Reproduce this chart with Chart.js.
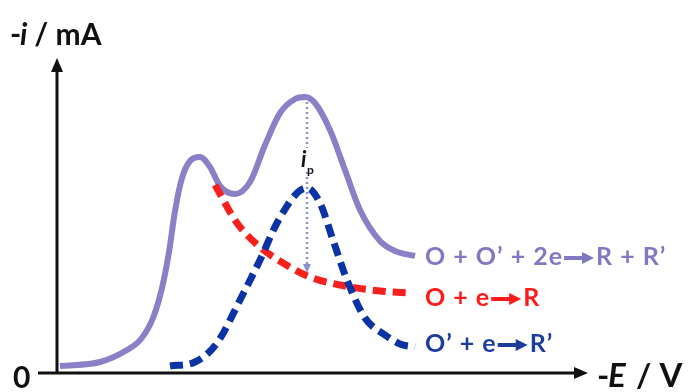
<!DOCTYPE html>
<html>
<head>
<meta charset="utf-8">
<script src="https://cdn.jsdelivr.net/npm/chart.js@4"></script>
<style>
  html, body { margin: 0; padding: 0; background: #fff; }
  #wrap { width: 696px; height: 392px; }
</style>
</head>
<body>
<div id="wrap"><canvas id="cv"></canvas></div>
<script>
// curve values (E and -i in arbitrary units)
const totalE = [3, 43, 70, 84, 96, 105, 112, 118, 125, 133, 143, 153, 163, 178, 193, 208, 223, 238, 248, 258, 273, 288, 303, 323, 338, 358];
const totalI = [7, 11, 23, 34, 55, 85, 121, 162, 195, 212, 216, 206, 187, 179, 191, 228, 260, 274, 276, 270, 243, 203, 163, 132, 122, 117];

const redoxE = [158, 180, 203, 226, 253, 283, 323, 355];
const redoxI = [188, 150, 126, 110, 96, 88, 82, 80];

const primeE = [113, 138, 160, 183, 203, 220, 240, 250, 263, 276, 290, 308, 328, 343, 358];
const primeI = [7, 11, 30, 73, 113, 150, 180, 185, 170, 133, 93, 55, 38, 29, 26];

// peak current marker
const peakE = [250, 250];
const peakI = [276, 103];

const eqLabels = [
  ["O + O\u2019 + 2e", "R + R\u2019"],
  ["O + e", "R"],
  ["O\u2019 + e", "R\u2019"],
];

const PURPLE = "#8b80c6";
const RED = "#f6201c";
const BLUE = "#0b33a3";
const FONT = "Lato";

function pts(xs, ys) {
  return xs.map((x, i) => ({ x: x, y: ys[i] }));
}

// arrow for the reaction labels
function smallArrow(ctx, x, y, len, color) {
  ctx.save();
  ctx.fillStyle = color;
  ctx.fillRect(x, y - 2, len - 10, 4);
  ctx.beginPath();
  ctx.moveTo(x + len, y);
  ctx.lineTo(x + len - 12, y - 6);
  ctx.lineTo(x + len - 12, y + 6);
  ctx.closePath();
  ctx.fill();
  ctx.restore();
}

function drawEq(ctx, parts, x, y, color) {
  ctx.save();
  ctx.font = "bold 25px " + FONT;
  ctx.letterSpacing = "1px";
  ctx.fillStyle = color;
  ctx.textBaseline = "middle";
  ctx.textAlign = "left";
  ctx.fillText(parts[0], x, y);
  let w = ctx.measureText(parts[0]).width;
  smallArrow(ctx, x + w + 1, y + 1, 30, color);
  ctx.fillText(parts[1], x + w + 33, y);
  ctx.restore();
}

const overlay = {
  id: "overlay",
  afterDraw(chart) {
    const ctx = chart.ctx;
    const xs = chart.scales.x;
    const ys = chart.scales.y;
    const ox = xs.getPixelForValue(0);
    const oy = ys.getPixelForValue(0);

    ctx.save();
    ctx.strokeStyle = "#111";
    ctx.fillStyle = "#111";
    ctx.lineWidth = 3;
    // x axis
    ctx.beginPath();
    ctx.moveTo(ox - 19, oy);
    ctx.lineTo(xs.right - 10, oy);
    ctx.stroke();
    ctx.beginPath();
    ctx.moveTo(xs.right, oy);
    ctx.lineTo(xs.right - 14, oy - 6);
    ctx.lineTo(xs.right - 14, oy + 6);
    ctx.closePath();
    ctx.fill();
    // y axis
    ctx.beginPath();
    ctx.moveTo(ox, oy);
    ctx.lineTo(ox, ys.top + 10);
    ctx.stroke();
    ctx.beginPath();
    ctx.moveTo(ox, ys.top);
    ctx.lineTo(ox - 6, ys.top + 14);
    ctx.lineTo(ox + 6, ys.top + 14);
    ctx.closePath();
    ctx.fill();

    // arrow head of i_p marker
    const px = xs.getPixelForValue(peakE[1]);
    const py = ys.getPixelForValue(peakI[1]);
    ctx.fillStyle = "#8e8fcf";
    ctx.beginPath();
    ctx.moveTo(px, py + 3);
    ctx.lineTo(px - 4, py - 6);
    ctx.lineTo(px + 4, py - 6);
    ctx.closePath();
    ctx.fill();

    // axis titles
    ctx.fillStyle = "#111";
    ctx.textBaseline = "alphabetic";
    ctx.textAlign = "left";
    ctx.font = "bold 30px " + FONT;
    ctx.fillText("-", 10, 45);
    ctx.font = "italic bold 30px " + FONT;
    ctx.fillText("i", 20, 45);
    ctx.font = "bold 30px " + FONT;
    ctx.fillText(" / mA", 27, 45);

    ctx.font = "bold 33px " + FONT;
    ctx.fillText("-", 597, 387);
    ctx.font = "italic bold 33px " + FONT;
    ctx.fillText("E", 608, 387);
    ctx.font = "bold 33px " + FONT;
    ctx.fillText(" / V", 628, 387);

    ctx.font = "bold 30px " + FONT;
    ctx.fillText("0", 13, 388);

    // i_p label
    ctx.fillStyle = "#fff";
    ctx.fillRect(299, 148, 18, 24);
    ctx.fillStyle = "#111";
    ctx.font = "italic bold 22px " + FONT;
    ctx.fillText("i", 301, 167);
    ctx.font = "bold 12px " + FONT;
    ctx.fillText("p", 307, 174);

    // reaction labels
    drawEq(ctx, eqLabels[0], 425, 257, "#8078c0");
    drawEq(ctx, eqLabels[1], 425, 298, "#ff1a1a");
    drawEq(ctx, eqLabels[2], 425, 344, "#1b3d9e");
    ctx.restore();
  },
};

new Chart(document.getElementById("cv"), {
  type: "line",
  data: {
    datasets: [
      {
        label: "ip",
        data: pts(peakE, peakI),
        borderColor: "#8e8fcf",
        borderWidth: 2.5,
        borderDash: [2, 3],
        pointRadius: 0,
        order: 0,
      },
      {
        label: "O' + e -> R'",
        data: pts(primeE, primeI),
        borderColor: BLUE,
        borderWidth: 7,
        borderDash: [13, 7],
        pointRadius: 0,
        cubicInterpolationMode: "monotone",
        order: 1,
      },
      {
        label: "O + e -> R",
        data: pts(redoxE, redoxI),
        borderColor: RED,
        borderWidth: 7,
        borderDash: [13, 7],
        pointRadius: 0,
        cubicInterpolationMode: "monotone",
        order: 2,
      },
      {
        label: "O + O' + 2e -> R + R'",
        data: pts(totalE, totalI),
        borderColor: PURPLE,
        borderWidth: 6,
        pointRadius: 0,
        cubicInterpolationMode: "monotone",
        order: 3,
      },
    ],
  },
  options: {
    responsive: true,
    maintainAspectRatio: false,
    animation: false,
    layout: { padding: { left: 57, right: 108, top: 58, bottom: 19 } },
    plugins: { legend: { display: false }, tooltip: { enabled: false } },
    scales: {
      x: { type: "linear", min: 0, max: 531, display: false },
      y: { type: "linear", min: 0, max: 315, display: false },
    },
  },
  plugins: [overlay],
});
</script>
</body>
</html>
